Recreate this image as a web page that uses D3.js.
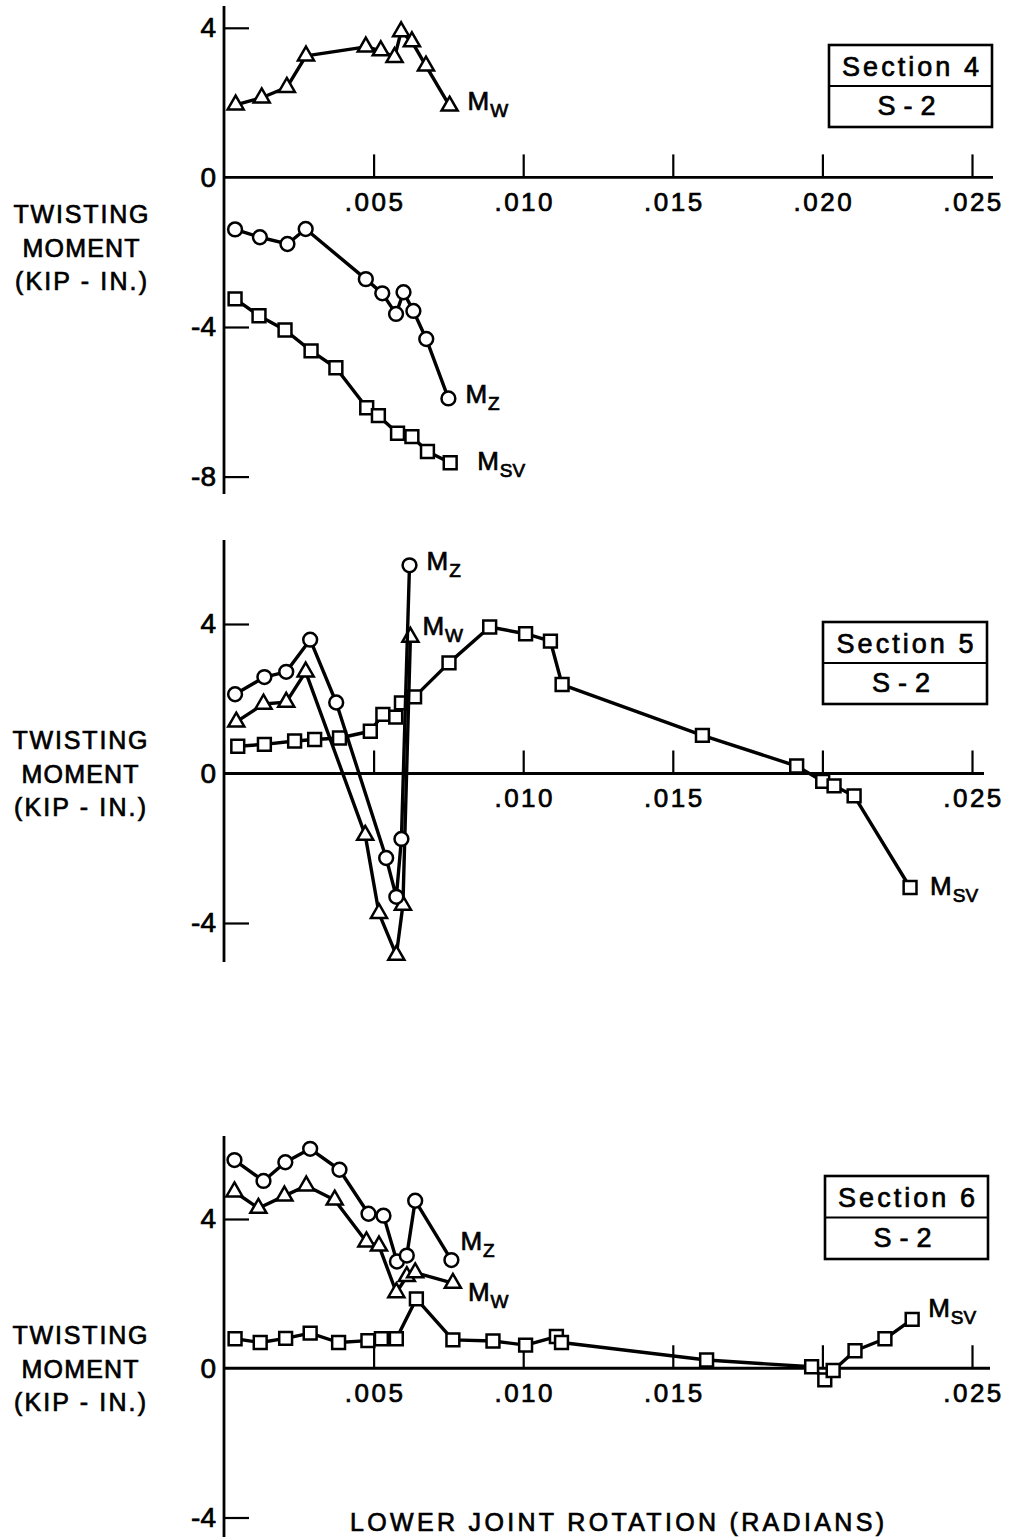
<!DOCTYPE html>
<html>
<head>
<meta charset="utf-8">
<script src="https://cdn.jsdelivr.net/npm/d3@7"></script>
<style>
  html, body { margin: 0; padding: 0; background: #fff; }
  svg { display: block; }
  text { font-family: "Liberation Sans", Arial, sans-serif; fill: #000; stroke: #000; stroke-width: 0.7px; }
</style>
</head>
<body>
<svg id="chart" width="1011" height="1537"></svg>
<script>
// ---- shared axis values ----
const xTickValues = [0.005, 0.010, 0.015, 0.020, 0.025];
const xTickLabels = [".005", ".010", ".015", ".020", ".025"];
const yAxisTitle = ["TWISTING", "MOMENT", "(KIP - IN.)"];
const xAxisTitle = "LOWER JOINT ROTATION  (RADIANS)";

// ---- Section 4 ----
const s4MwRot  = [0.00039, 0.00126, 0.00210, 0.00274, 0.00474, 0.00524, 0.00570, 0.00592, 0.00628, 0.00675, 0.00754];
const s4Mw     = [1.94, 2.13, 2.41, 3.25, 3.49, 3.39, 3.21, 3.90, 3.63, 2.98, 1.91];
const s4MzRot  = [0.00037, 0.00120, 0.00212, 0.00273, 0.00474, 0.00529, 0.00575, 0.00600, 0.00633, 0.00676, 0.00750];
const s4Mz     = [-1.39, -1.60, -1.78, -1.38, -2.72, -3.10, -3.65, -3.07, -3.57, -4.32, -5.91];
const s4MsvRot = [0.00037, 0.00117, 0.00204, 0.00291, 0.00374, 0.00477, 0.00516, 0.00580, 0.00628, 0.00680, 0.00756];
const s4Msv    = [-3.25, -3.70, -4.08, -4.64, -5.09, -6.16, -6.37, -6.84, -6.93, -7.33, -7.63];
const s4YTicks = [-8, -4, 0, 4];

// ---- Section 5 ----
const s5MzRot  = [0.00037, 0.00135, 0.00208, 0.00288, 0.00375, 0.00542, 0.00576, 0.00593, 0.00620];
const s5Mz     = [2.12, 2.58, 2.72, 3.58, 1.90, -2.26, -3.30, -1.75, 5.57];
const s5MwRot  = [0.00041, 0.00132, 0.00208, 0.00273, 0.00472, 0.00518, 0.00576, 0.00598, 0.00623];
const s5Mw     = [1.38, 1.86, 1.91, 2.72, -1.65, -3.74, -4.86, -3.52, 3.65];
const s5MsvRot = [0.00046, 0.00135, 0.00236, 0.00303, 0.00386, 0.00489, 0.00531, 0.00574, 0.00593, 0.00637,
                  0.00752, 0.00888, 0.01008, 0.01091, 0.01130, 0.01599, 0.01914, 0.02001, 0.02039, 0.02106, 0.02293];
const s5Msv    = [0.73, 0.78, 0.87, 0.91, 0.95, 1.13, 1.58, 1.51, 1.89, 2.05,
                  2.96, 3.92, 3.74, 3.54, 2.38, 1.02, 0.20, -0.21, -0.33, -0.60, -3.05];
const s5YTicks = [-4, 0, 4];

// ---- Section 6 ----
const s6MzRot  = [0.00035, 0.00132, 0.00205, 0.00288, 0.00386, 0.00483, 0.00533, 0.00578, 0.00611, 0.00639, 0.00760];
const s6Mz     = [5.58, 5.02, 5.52, 5.88, 5.32, 4.14, 4.09, 2.86, 3.02, 4.49, 2.90];
const s6MwRot  = [0.00035, 0.00115, 0.00202, 0.00275, 0.00370, 0.00476, 0.00518, 0.00576, 0.00611, 0.00639, 0.00765];
const s6Mw     = [4.73, 4.29, 4.62, 4.89, 4.51, 3.39, 3.28, 2.03, 2.46, 2.56, 2.28];
const s6MsvRot = [0.00037, 0.00121, 0.00206, 0.00288, 0.00383, 0.00481, 0.00526, 0.00576, 0.00643, 0.00765, 0.00899,
                  0.01008, 0.01111, 0.01128, 0.01613, 0.01964, 0.02008, 0.02036, 0.02109, 0.02209, 0.02300];
const s6Msv    = [0.79, 0.69, 0.80, 0.94, 0.69, 0.74, 0.79, 0.79, 1.86, 0.76, 0.73,
                  0.62, 0.85, 0.69, 0.22, 0.04, -0.31, -0.06, 0.47, 0.79, 1.31];
const s6YTicks = [-4, 0, 4];

// ---- drawing ----
const svg = d3.select("#chart");
const x = d3.scaleLinear().domain([0, 0.025]).range([224, 972]);

const markerShape = {
  tri: d3.symbol().type(d3.symbolTriangle).size(112),
  circ: d3.symbol().type(d3.symbolCircle).size(150),
  sq: d3.symbol().type(d3.symbolSquare).size(165)
};

const panels = [
  {
    name: "Section 4",
    y: d3.scaleLinear().domain([-8, 4]).range([476.6, 27.8]),
    yTicks: s4YTicks, yLine: [6, 494], xEnd: 993,
    hideX: [],
    box: [829, 45, 992, 127],
    title: [81, 223],
    series: [
      { rot: s4MwRot,  val: s4Mw,  mark: "tri",  sub: "W",  lbl: [18, 4] },
      { rot: s4MzRot,  val: s4Mz,  mark: "circ", sub: "Z",  lbl: [17, 5] },
      { rot: s4MsvRot, val: s4Msv, mark: "sq",   sub: "SV", lbl: [27, 7] }
    ]
  },
  {
    name: "Section 5",
    y: d3.scaleLinear().domain([-4, 4]).range([923, 624]),
    yTicks: s5YTicks, yLine: [540, 962], xEnd: 984,
    hideX: [0.005, 0.020],
    box: [823, 622, 987, 704],
    title: [80, 749],
    series: [
      { rot: s5MsvRot, val: s5Msv, mark: "sq",   sub: "SV", lbl: [20, 8] },
      { rot: s5MwRot,  val: s5Mw,  mark: "tri",  sub: "W",  lbl: [12, -2] },
      { rot: s5MzRot,  val: s5Mz,  mark: "circ", sub: "Z",  lbl: [17, 5] }
    ]
  },
  {
    name: "Section 6",
    y: d3.scaleLinear().domain([-4, 4]).range([1517.5, 1219]),
    yTicks: s6YTicks, yLine: [1136, 1537], xEnd: 990,
    hideX: [0.020],
    box: [825, 1176, 988, 1259],
    title: [80, 1344],
    series: [
      { rot: s6MsvRot, val: s6Msv, mark: "sq",   sub: "SV", lbl: [16, -2] },
      { rot: s6MwRot,  val: s6Mw,  mark: "tri",  sub: "W",  lbl: [15, 18] },
      { rot: s6MzRot,  val: s6Mz,  mark: "circ", sub: "Z",  lbl: [9, -10] }
    ]
  }
];

panels.forEach(p => {
  const g = svg.append("g");
  const y = p.y;
  const y0 = y(0);
  const x0 = x(0);

  // axis lines
  g.append("line").attr("x1", x0).attr("x2", x0).attr("y1", p.yLine[0]).attr("y2", p.yLine[1])
    .attr("stroke", "#000").attr("stroke-width", 2.8);
  g.append("line").attr("x1", x0).attr("x2", p.xEnd).attr("y1", y0).attr("y2", y0)
    .attr("stroke", "#000").attr("stroke-width", 2.8);

  // x axis ticks point up, labels below
  const xAxis = d3.axisBottom(x).tickValues(xTickValues)
    .tickSizeInner(-23).tickSizeOuter(0).tickPadding(15)
    .tickFormat((d, i) => p.hideX.some(h => Math.abs(h - d) < 1e-9) ? "" : xTickLabels[i]);
  const gx = g.append("g").attr("transform", `translate(0,${y0})`).call(xAxis);
  gx.select(".domain").remove();
  gx.selectAll(".tick line").attr("stroke", "#000").attr("stroke-width", 2.2);
  gx.selectAll(".tick text").attr("font-size", 26).attr("letter-spacing", 2.5)
    .attr("font-family", "Liberation Sans, Arial, sans-serif").attr("fill", "#000")
    .attr("stroke", "#000").attr("stroke-width", 0.7).attr("dx", 1);

  // y axis ticks point right, labels left
  const yAxis = d3.axisLeft(y).tickValues(p.yTicks)
    .tickSizeInner(-25).tickSizeOuter(0).tickPadding(8)
    .tickFormat(d => d < 0 ? "-" + Math.abs(d) : String(d));
  const gy = g.append("g").attr("transform", `translate(${x0},0)`).call(yAxis);
  gy.select(".domain").remove();
  gy.selectAll(".tick line").attr("stroke", "#000").attr("stroke-width", 2.2)
    .attr("display", d => d === 0 ? "none" : null);
  gy.selectAll(".tick text").attr("font-size", 28)
    .attr("font-family", "Liberation Sans, Arial, sans-serif").attr("fill", "#000")
    .attr("stroke", "#000").attr("stroke-width", 0.7);

  // y axis title
  const tt = g.append("text").attr("text-anchor", "middle").attr("font-size", 25);
  const widths = [135, 117, 132];
  yAxisTitle.forEach((s, i) => {
    tt.append("tspan").attr("x", p.title[0]).attr("y", p.title[1] + i * 33.5)
      .attr("textLength", widths[i]).attr("lengthAdjust", "spacing").text(s);
  });

  // label box
  const [bx0, by0, bx1, by1] = p.box;
  const bmid = (by0 + by1) / 2;
  g.append("rect").attr("x", bx0).attr("y", by0).attr("width", bx1 - bx0).attr("height", by1 - by0)
    .attr("fill", "#fff").attr("stroke", "#000").attr("stroke-width", 2.6);
  g.append("line").attr("x1", bx0).attr("x2", bx1).attr("y1", bmid).attr("y2", bmid)
    .attr("stroke", "#000").attr("stroke-width", 2);
  g.append("text").attr("x", (bx0 + bx1) / 2).attr("y", by0 + 31).attr("text-anchor", "middle")
    .attr("font-size", 27).attr("textLength", 137).attr("lengthAdjust", "spacing").text(p.name);
  g.append("text").attr("x", (bx0 + bx1) / 2 - 4).attr("y", bmid + 29).attr("text-anchor", "middle")
    .attr("font-size", 27).attr("textLength", 58).attr("lengthAdjust", "spacing").text("S - 2");

  // series
  const line = d3.line().x(d => x(d[0])).y(d => y(d[1]));
  p.series.forEach(s => {
    const pts = d3.zip(s.rot, s.val);
    g.append("path").datum(pts).attr("d", line)
      .attr("fill", "none").attr("stroke", "#000").attr("stroke-width", 3.4)
      .attr("stroke-linejoin", "round");
    g.selectAll(null).data(pts).join("path")
      .attr("transform", d => `translate(${x(d[0])},${y(d[1])})`)
      .attr("d", markerShape[s.mark]())
      .attr("fill", "#fff").attr("stroke", "#000").attr("stroke-width", 2.5);

    const last = pts[pts.length - 1];
    const t = g.append("text")
      .attr("x", x(last[0]) + s.lbl[0]).attr("y", y(last[1]) + s.lbl[1])
      .attr("font-size", 26);
    t.append("tspan").text("M");
    t.append("tspan").attr("font-size", 19).attr("dy", 7).attr("dx", 1).text(s.sub);
  });
});

// bottom axis title
svg.append("text").attr("x", 617).attr("y", 1531).attr("text-anchor", "middle")
  .attr("font-size", 25).attr("textLength", 534).attr("lengthAdjust", "spacing")
  .text(xAxisTitle);
</script>
</body>
</html>
